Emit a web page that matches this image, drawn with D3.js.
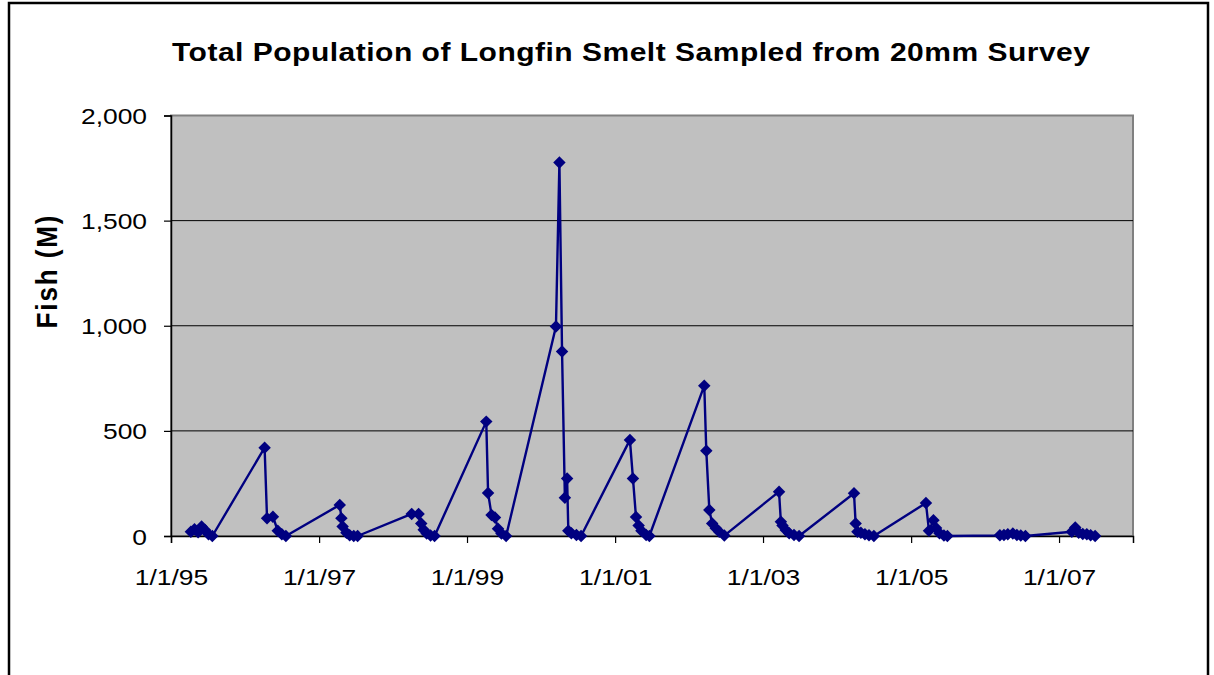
<!DOCTYPE html>
<html>
<head>
<meta charset="utf-8">
<script src="https://cdn.jsdelivr.net/npm/d3@7"></script>
<style>
  body { margin: 0; background: #fff; }
  svg { display: block; }
  text { font-family: Arial, "Liberation Sans", sans-serif; fill: #000; }
</style>
</head>
<body>
<svg id="chart" width="1214" height="675"></svg>
<script>
// Survey sampling dates and the total longfin smelt estimate (millions of fish)
const sampleDates = [
  "1995-04-09","1995-04-27","1995-05-15","1995-06-01","1995-06-18","1995-07-05","1995-07-24",
  "1996-04-07","1996-04-19","1996-05-18","1996-06-11","1996-07-01","1996-07-21",
  "1997-04-13","1997-04-21","1997-04-27","1997-05-16","1997-06-01","1997-06-21","1997-07-10",
  "1998-04-03","1998-05-07","1998-05-20","1998-06-01","1998-06-16","1998-07-05","1998-07-25",
  "1999-04-06","1999-04-15","1999-05-02","1999-05-19","1999-06-03","1999-06-20","1999-07-13",
  "2000-03-15","2000-04-01","2000-04-14","2000-04-28","2000-05-09","2000-05-15","2000-05-30","2000-06-24","2000-07-17",
  "2001-03-15","2001-03-30","2001-04-14","2001-04-27","2001-05-11","2001-06-03","2001-06-19",
  "2002-03-17","2002-03-27","2002-04-11","2002-04-25","2002-05-13","2002-05-30","2002-06-24",
  "2003-03-21","2003-03-30","2003-04-07","2003-04-23","2003-05-10","2003-06-03","2003-06-28",
  "2004-03-25","2004-04-02","2004-04-11","2004-04-28","2004-05-18","2004-06-07","2004-07-01",
  "2005-03-15","2005-03-30","2005-04-21","2005-05-04","2005-05-21","2005-06-12","2005-06-29",
  "2006-03-15","2006-04-04","2006-04-23","2006-05-18","2006-06-07","2006-06-26","2006-07-19",
  "2007-03-05","2007-03-22","2007-04-08","2007-04-28","2007-05-18","2007-06-06","2007-06-28"
];
const fishMillions = [
  20, 32, 18, 45, 28, 8, 0,
  420, 84, 92, 25, 8, 0,
  148, 85, 45, 15, 3, 0, 0,
  105, 105, 60, 30, 12, 2, 0,
  544, 205, 100, 88, 35, 12, 0,
  996, 1776, 877, 182, 274, 25, 13, 5, 0,
  457, 274, 90, 50, 25, 5, 0,
  715, 405, 124, 60, 37, 20, 2,
  211, 68, 50, 28, 13, 5, 0,
  203, 60, 20, 15, 8, 3, 0,
  157, 25, 75, 38, 13, 2, 0,
  3, 5, 8, 12, 5, 2, 0,
  20, 40, 15, 10, 8, 3, 0
];

const yTickValues = [0, 500, 1000, 1500, 2000];
const xTickDates = ["1995-01-01","1997-01-01","1999-01-01","2001-01-01","2003-01-01","2005-01-01","2007-01-01"];
const xTickLabels = ["1/1/95","1/1/97","1/1/99","1/1/01","1/1/03","1/1/05","1/1/07"];
const chartTitle = "Total Population of Longfin Smelt Sampled from 20mm Survey";
const yAxisTitle = "Fish (M)";

const parse = d3.timeParse("%Y-%m-%d");
const points = sampleDates.map((d, i) => ({ date: parse(d), value: fishMillions[i] }));

const svg = d3.select("#chart");
const plot = { left: 171, top: 115.5, right: 1133, bottom: 536 };
const SX = 1.2; // horizontal stretch applied to the lettering

const x = d3.scaleTime()
  .domain([parse("1995-01-01"), parse("2008-01-01")])
  .range([plot.left, plot.right]);
const y = d3.scaleLinear()
  .domain([0, 2000])
  .range([plot.bottom, plot.top]);

// outer frame
svg.append("rect")
  .attr("x", 9).attr("y", 3).attr("width", 1199).attr("height", 700)
  .attr("fill", "none").attr("stroke", "#000").attr("stroke-width", 2.5);

// title
svg.append("text")
  .attr("transform", `translate(631,61) scale(${SX},1)`)
  .attr("text-anchor", "middle")
  .attr("font-size", 25).attr("font-weight", "bold")
  .attr("textLength", 918 / SX).attr("lengthAdjust", "spacing")
  .text(chartTitle);

// plot area
svg.append("rect")
  .attr("x", plot.left).attr("y", plot.top)
  .attr("width", plot.right - plot.left).attr("height", plot.bottom - plot.top)
  .attr("fill", "#c0c0c0").attr("stroke", "#808080").attr("stroke-width", 2);

// horizontal gridlines
svg.append("g")
  .selectAll("line")
  .data(yTickValues.filter(v => v > 0 && v < 2000))
  .join("line")
  .attr("x1", plot.left).attr("x2", plot.right)
  .attr("y1", d => y(d)).attr("y2", d => y(d))
  .attr("stroke", "#000").attr("stroke-width", 1);

// y axis
const yAxis = d3.axisLeft(y).tickValues(yTickValues).tickSize(7).tickFormat(() => "");
const gy = svg.append("g").attr("transform", `translate(${plot.left},0)`).call(yAxis);
gy.select(".domain").attr("stroke", "#000").attr("stroke-width", 1.5);
gy.selectAll(".tick line").attr("stroke", "#000").attr("stroke-width", 1.2);
gy.selectAll(".tick").append("text")
  .attr("transform", `translate(-24,8) scale(${SX},1)`)
  .attr("text-anchor", "end")
  .attr("font-size", 22)
  .text(d => d3.format(",")(d));

// x axis
const xAxis = d3.axisBottom(x).tickValues(xTickDates.map(parse)).tickSize(7).tickFormat(() => "");
const gx = svg.append("g").attr("transform", `translate(0,${plot.bottom})`).call(xAxis);
gx.select(".domain").attr("stroke", "#000").attr("stroke-width", 1.5);
gx.selectAll(".tick line").attr("stroke", "#000").attr("stroke-width", 1.2);
gx.selectAll(".tick").append("text")
  .attr("transform", `translate(0,49) scale(${SX},1)`)
  .attr("text-anchor", "middle")
  .attr("font-size", 22)
  .text((d, i) => xTickLabels[i]);

// y axis title
svg.append("text")
  .attr("transform", `translate(57,272) rotate(-90) scale(1,1.1)`)
  .attr("text-anchor", "middle")
  .attr("font-size", 26).attr("font-weight", "bold")
  .attr("textLength", 113).attr("lengthAdjust", "spacing")
  .text(yAxisTitle);

// series line and diamond markers
const line = d3.line().x(d => x(d.date)).y(d => y(d.value));
svg.append("path")
  .datum(points)
  .attr("d", line)
  .attr("fill", "none")
  .attr("stroke", "#000080")
  .attr("stroke-width", 2.4)
  .attr("stroke-linejoin", "round");

const diamond = d3.symbol().type(d3.symbolSquare).size(78);
svg.append("g")
  .selectAll("path")
  .data(points)
  .join("path")
  .attr("d", diamond)
  .attr("transform", d => `translate(${x(d.date)},${y(d.value)}) rotate(45)`)
  .attr("fill", "#000080");
</script>
</body>
</html>
